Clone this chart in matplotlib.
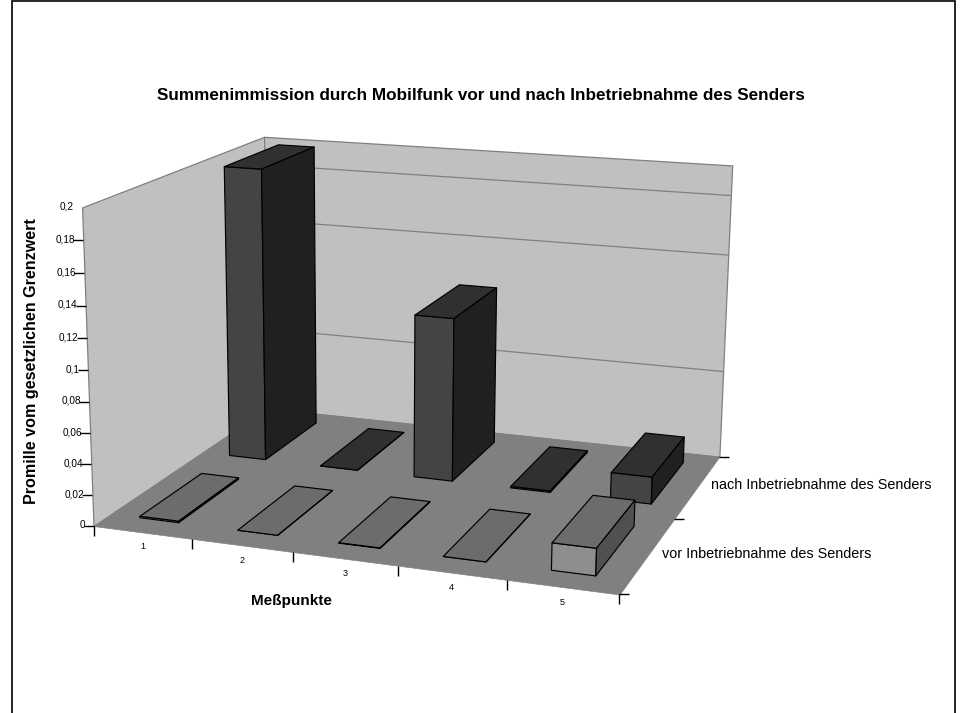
import numpy as np
import matplotlib
matplotlib.use('Agg')
import matplotlib.pyplot as plt
from matplotlib.markers import TICKLEFT, TICKRIGHT, TICKDOWN
from matplotlib.patches import Rectangle
from mpl_toolkits.mplot3d import proj3d
from mpl_toolkits.mplot3d.art3d import Poly3DCollection

W, H = 960, 713

categories = ['1', '2', '3', '4', '5']
series_names = ['vor Inbetriebnahme des Senders', 'nach Inbetriebnahme des Senders']
vor_values = [0.001, 0.0, 0.0003, 0.0, 0.017]
nach_values = [0.199, 0.0, 0.11, 0.001, 0.018]
z_ticks = [0, 0.02, 0.04, 0.06, 0.08, 0.1, 0.12, 0.14, 0.16, 0.18, 0.2]
z_labels = ['0', '0,02', '0,04', '0,06', '0,08', '0,1', '0,12', '0,14', '0,16', '0,18', '0,2']
grid_values = [0.06, 0.14, 0.18]

title = 'Summenimmission durch Mobilfunk vor und nach Inbetriebnahme des Senders'
x_title = 'Meßpunkte'
z_title = 'Promille vom gesetzlichen Grenzwert'

# colours of the bar faces: front, top, side
vor_colors = ['#8e8e8e', '#6c6c6c', '#505050']
nach_colors = ['#444444', '#303030', '#202020']

# corners of the chart box (data -> pixel), used to fit the camera
box_data = [(0, 0, 0), (0, 0, .2), (0, 2, 0), (0, 2, .2), (5, 2, 0), (5, 2, .2), (5, 0, 0)]
box_px = [(95, 525.7), (80.7, 207.3), (266, 409), (265.7, 136.7),
          (720, 456), (731.7, 165.7), (619.3, 595)]


def fit_camera(pts, px):
    A, b = [], []
    for (x, y, z), (u, v) in zip(pts, px):
        v = H - v
        A.append([x, y, z, 1, 0, 0, 0, 0, -u * x, -u * y, -u * z])
        b.append(u)
        A.append([0, 0, 0, 0, x, y, z, 1, -v * x, -v * y, -v * z])
        b.append(v)
    p = np.linalg.lstsq(np.array(A), np.array(b), rcond=None)[0]
    return np.array([p[:4], p[4:8], [0, 1, 0, 0], [p[8], p[9], p[10], 1]])


plt.rcParams['font.family'] = ['Liberation Sans', 'DejaVu Sans']
fig = plt.figure(figsize=(W / 100, H / 100), dpi=100)

# Axes3D keeps a square box, so make it square and let it overhang the figure
ax = fig.add_axes([0, (H - W) / 2 / H, 1, W / H], projection='3d')
ax.set_axis_off()
ax.set_proj_type('ortho')  # otherwise lines get clipped to -1..1
ax.computed_zorder = False
M = fit_camera(box_data, box_px)
ax.get_proj = lambda: M
ax.viewLim.intervalx = (0, W)
ax.viewLim.intervaly = ((H - W) / 2, (H + W) / 2)

order = [1]


def add_poly(faces, fc, ec, lw=1.0):
    for face, c in zip(faces, fc):
        p = Poly3DCollection([face], facecolor=c, edgecolor=ec, linewidths=lw, zorder=order[0])
        ax.add_collection3d(p, autolim=False)
        order[0] += 1


def bar(i, s, h, colors):
    x0, x1 = i + 0.29, i + 0.69
    y0, y1 = s + 0.18, s + 0.85
    front = [(x0, y0, 0), (x1, y0, 0), (x1, y0, h), (x0, y0, h)]
    top = [(x0, y0, h), (x1, y0, h), (x1, y1, h), (x0, y1, h)]
    side = [(x1, y0, 0), (x1, y1, 0), (x1, y1, h), (x1, y0, h)]
    add_poly([front, top, side], colors, '#000000', 0.85)


def label(x, y, z, s, **kw):
    # text goes on the figure at the projected spot of the data point
    u, v, _ = proj3d.proj_transform(x, y, z, M)
    fig.text(u / W, v / H, s, **kw)


# walls and floor
add_poly([[(0, 0, 0), (0, 2, 0), (0, 2, .2), (0, 0, .2)],
          [(0, 2, 0), (5, 2, 0), (5, 2, .2), (0, 2, .2)]],
         ['#c0c0c0', '#c0c0c0'], '#808080', 0.9)
add_poly([[(0, 0, 0), (5, 0, 0), (5, 2, 0), (0, 2, 0)]], ['#808080'], '#808080', 0.5)
for g in grid_values:
    ax.plot([0, 5], [2, 2], [g, g], color='#808080', lw=0.9, zorder=order[0])
order[0] += 1

for i, v in enumerate(nach_values):
    bar(i, 1, v, nach_colors)
for i, v in enumerate(vor_values):
    bar(i, 0, v, vor_colors)

# ticks and tick labels
for z, lab in zip(z_ticks, z_labels):
    if z < 0.2:
        ax.plot([0], [0], [z], marker=TICKLEFT, ms=7, mew=1, color='k', zorder=order[0])
    label(-0.085, 0, z, lab, ha='right', va='center', fontsize=7.2)
for i in range(len(categories) + 1):
    ax.plot([i], [0], [0], marker=TICKDOWN, ms=7, mew=1, color='k', zorder=order[0])
for i, lab in enumerate(categories):
    label(i + 0.5, 0, -0.0095, lab, ha='center', va='center', fontsize=6.5)
for s in range(len(series_names) + 1):
    ax.plot([5], [s], [0], marker=TICKRIGHT, ms=7, mew=1, color='k', zorder=order[0])
for s, lab in enumerate(series_names):
    label(5.13, s + 0.5, 0.002, lab, ha='left', va='center', fontsize=10.4)

fig.text(481 / W, 1 - 95 / H, title, ha='center', va='center', fontsize=12.3, fontweight='bold')
fig.text(291 / W, 1 - 601 / H, x_title, ha='center', va='center', fontsize=11, fontweight='bold')
fig.text(32 / W, 1 - 361 / H, z_title, ha='center', va='center', rotation=90, fontsize=11.6, fontweight='bold')

# frame of the chart area, runs off the bottom
fig.add_artist(Rectangle((12 / W, -0.02), (955 - 12) / W, 1.02 - 1 / H, transform=fig.transFigure,
                         fill=False, edgecolor='k', lw=1.2))

fig.savefig('out.png', dpi=100)
